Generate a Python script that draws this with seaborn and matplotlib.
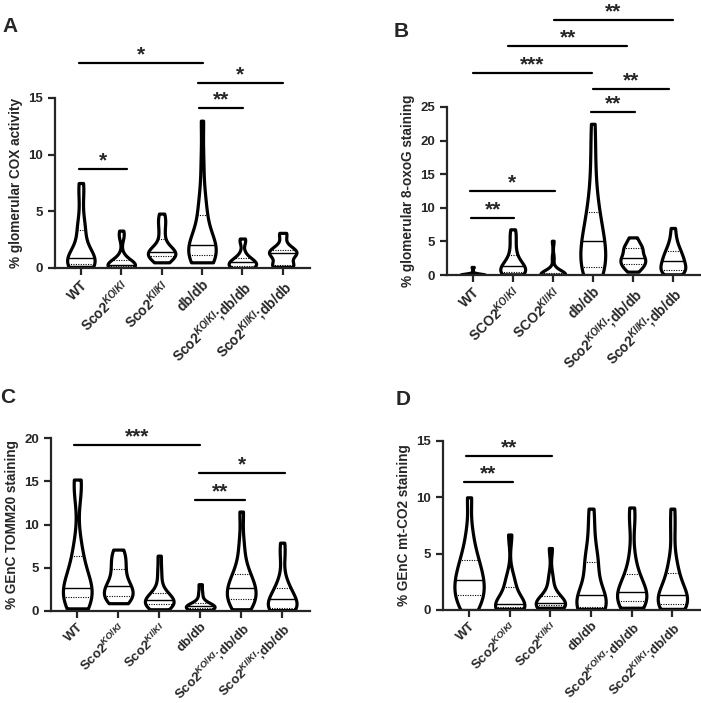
import numpy as np
import pandas as pd
import matplotlib
matplotlib.use("Agg")
import matplotlib.pyplot as plt
import seaborn as sns

sns.set_style("ticks")
plt.rcParams['font.family'] = ['Liberation Sans', 'DejaVu Sans']
plt.rcParams['font.weight'] = 'bold'
plt.rcParams['mathtext.fontset'] = 'custom'
plt.rcParams['mathtext.rm'] = 'Liberation Sans:bold'
plt.rcParams['mathtext.it'] = 'Liberation Sans:italic:bold'
plt.rcParams['mathtext.bf'] = 'Liberation Sans:bold'

# tick labels
labels_sco = ['WT', r'Sco2$^{KO/KI}$', r'Sco2$^{KI/KI}$', 'db/db',
              r'Sco2$^{KO/KI}$;db/db', r'Sco2$^{KI/KI}$;db/db']
labels_SCO = ['WT', r'SCO2$^{KO/KI}$', r'SCO2$^{KI/KI}$', 'db/db',
              r'Sco2$^{KO/KI}$;db/db', r'Sco2$^{KI/KI}$;db/db']

# A - % glomerular COX activity
a_wt = [0.1, 0.2, 0.25, 0.3, 0.3, 0.4, 0.5, 0.6, 0.7, 0.8, 1.0, 1.2, 1.5, 2.0, 3.3, 3.5, 3.8, 5.5, 7.0, 7.5]
a_ko = [0.0, 0.05, 0.1, 0.1, 0.15, 0.2, 0.2, 0.25, 0.3, 0.3, 0.35, 0.4, 0.5, 0.6, 0.8, 1.2, 2.6, 3.0, 3.3]
a_ki = [0.5, 0.8, 1.0, 1.1, 1.1, 1.2, 1.3, 1.4, 1.4, 1.5, 1.6, 1.8, 2.6, 3.2, 3.9, 4.3, 4.8]
a_db = [0.5, 0.7, 0.9, 1.0, 1.1, 1.2, 1.4, 1.6, 1.8, 2.0, 2.0, 2.2, 2.5, 3.0, 4.6, 4.8, 5.5, 7.0, 9.5, 13.0]
a_kodb = [0.0, 0.05, 0.1, 0.15, 0.2, 0.3, 0.4, 0.5, 0.6, 0.7, 0.8, 0.9, 1.4, 2.3, 2.6]
a_kidb = [0.1, 0.15, 0.2, 0.2, 0.25, 0.6, 1.1, 1.2, 1.3, 1.3, 1.4, 1.5, 1.6, 1.7, 2.1, 2.9, 3.1]

# B - % glomerular 8-oxoG staining
b_wt = [0, 0, 0, 0, 0, 0.02, 0.03, 0.05, 0.05, 0.1, 0.1, 0.2, 1.2]
b_ko = [0.1, 0.2, 0.3, 0.4, 0.4, 0.8, 1.1, 1.3, 1.5, 1.8, 2.5, 3.4, 4.6, 5.8, 6.8]
b_ki = [0, 0, 0, 0, 0, 0.02, 0.05, 0.05, 0.1, 0.1, 0.15, 0.2, 0.3, 0.5, 1.0, 2.6, 5.1]
b_db = [0.0, 0.5, 1.0, 1.1, 1.2, 2.5, 3.5, 4.5, 5.1, 5.5, 6.5, 8.0, 9.4, 11.0, 14.0, 18.0, 22.5]
b_kodb = [0.5, 1.0, 1.4, 1.6, 1.8, 2.2, 2.5, 2.6, 2.8, 3.5, 3.9, 4.0, 4.3, 5.0, 5.6]
b_kidb = [0.1, 0.3, 0.5, 0.7, 0.8, 1.2, 1.6, 2.0, 2.2, 2.5, 3.0, 3.4, 3.8, 4.5, 5.5, 7.0]

# C - % GEnC TOMM20 staining
c_wt = [0.3, 0.8, 1.2, 1.4, 1.5, 1.7, 2.0, 2.4, 2.6, 2.7, 3.0, 3.6, 4.5, 6.2, 6.5, 8.0, 14.0, 14.6, 15.2]
c_ko = [0.9, 1.2, 1.6, 1.7, 2.0, 2.5, 2.8, 3.0, 3.5, 4.5, 5.0, 5.8, 6.5, 7.1]
c_ki = [0.2, 0.4, 0.6, 0.7, 0.8, 1.0, 1.1, 1.2, 1.3, 1.5, 1.8, 2.0, 2.3, 3.5, 4.8, 6.4]
c_db = [0.1, 0.2, 0.3, 0.3, 0.4, 0.5, 0.5, 0.6, 0.7, 0.8, 0.9, 1.5, 2.2, 3.1]
c_kodb = [0.2, 0.6, 1.0, 1.2, 1.5, 2.0, 2.4, 2.6, 3.0, 3.5, 4.0, 4.5, 6.0, 8.0, 11.5]
c_kidb = [0.1, 0.2, 0.25, 0.3, 0.3, 0.6, 1.0, 1.4, 1.6, 2.0, 2.5, 2.8, 4.0, 6.3, 7.9]

# D - % GEnC mt-CO2 staining
d_wt = [0.0, 0.5, 1.0, 1.2, 1.4, 2.0, 2.5, 2.7, 3.0, 3.5, 4.2, 4.6, 5.5, 7.0, 10.0]
d_ko = [0.1, 0.15, 0.2, 0.25, 0.3, 0.4, 0.5, 0.6, 0.8, 2.0, 2.3, 3.0, 6.7]
d_ki = [0.2, 0.3, 0.4, 0.4, 0.5, 0.5, 0.6, 0.7, 0.8, 1.2, 2.0, 3.0, 5.5]
d_db = [0.1, 0.1, 0.15, 0.2, 0.5, 1.0, 1.2, 1.5, 2.5, 4.0, 4.3, 5.0, 7.0, 9.0]
d_kodb = [0.2, 0.4, 0.6, 0.7, 0.9, 1.2, 1.5, 1.6, 1.8, 2.2, 2.9, 3.5, 5.0, 7.8, 9.1]
d_kidb = [0.1, 0.3, 0.5, 0.5, 0.6, 0.9, 1.2, 1.3, 1.5, 2.0, 3.0, 3.5, 4.5, 7.0, 9.0]

# significance bars: (from, to, height, stars)
sig_a = [(-0.05, 3.03, 18.1, '*'), (2.9, 5.0, 16.3, '*'), (2.93, 4.02, 14.1, '**'), (-0.05, 1.15, 8.7, '*')]
sig_b = [(2.03, 5.0, 38.0, '**'), (0.89, 3.86, 34.1, '**'), (0.0, 2.97, 30.1, '***'),
         (3.0, 4.9, 27.7, '**'), (2.96, 4.05, 24.2, '**'), (-0.07, 2.05, 12.45, '*'), (-0.04, 1.04, 8.45, '**')]
sig_c = [(-0.07, 3.0, 19.2, '***'), (2.96, 5.06, 15.9, '*'), (2.88, 4.1, 12.8, '**')]
sig_d = [(-0.07, 2.03, 13.7, '**'), (-0.13, 1.07, 11.4, '**')]


def panel(ax, groups, labels, ymax, ystep, ylabel, sig, width, xsize):
    df = pd.DataFrame({'g': [lab for lab, vals in zip(labels, groups) for v in vals],
                       'v': [v for vals in groups for v in vals]})
    sns.violinplot(data=df, x='g', y='v', order=labels, ax=ax, color='white',
                   linecolor='black', linewidth=2.3, cut=0, inner='quart',
                   inner_kws=dict(color='black', linewidth=0.8),
                   density_norm='width', width=width, bw_adjust=0.8)
    for i, ln in enumerate(ax.lines):
        if i % 3 == 1:
            ln.set_linestyle('-')
            ln.set_linewidth(1.0)
        else:
            ln.set_linestyle((0, (1, 1.2)))
    ax.set_xlim(-0.64, 5.68)
    ax.set_ylim(0, ymax)
    ax.set_yticks(np.arange(0, ymax + 0.1, ystep))
    ax.set_xlabel('')
    ax.set_ylabel(ylabel, fontsize=9.8, fontweight='bold', labelpad=4)
    sns.despine(ax=ax)
    for s in ['left', 'bottom']:
        ax.spines[s].set_linewidth(1.6)
    ax.tick_params(width=1.6, length=5, labelsize=9.5)
    ax.tick_params(axis='x', labelsize=xsize, pad=2)
    plt.setp(ax.get_xticklabels(), rotation=45, ha='right', rotation_mode='anchor')
    plt.setp(ax.get_yticklabels(), fontweight='bold')
    for x0, x1, y, st in sig:
        ax.plot([x0, x1], [y, y], color='black', lw=1.6, clip_on=False)
        ax.annotate(st, xy=((x0 + x1) / 2, y), xytext=(0, -1), textcoords='offset points',
                    ha='center', va='bottom', fontsize=15, fontweight='bold',
                    annotation_clip=False)


fig = plt.figure(figsize=(7.01, 7.03), dpi=100)
ax_a = fig.add_axes([0.0785, 0.6188, 0.364, 0.2418])
ax_b = fig.add_axes([0.6377, 0.6088, 0.361, 0.239])
ax_c = fig.add_axes([0.0728, 0.1309, 0.3695, 0.246])
ax_d = fig.add_axes([0.632, 0.1323, 0.3666, 0.2404])

panel(ax_a, [a_wt, a_ko, a_ki, a_db, a_kodb, a_kidb], labels_sco, 15, 5,
      '% glomerular COX activity', sig_a, 0.68, 10)
panel(ax_b, [b_wt, b_ko, b_ki, b_db, b_kodb, b_kidb], labels_SCO, 25, 5,
      '% glomerular 8-oxoG staining', sig_b, 0.62, 10)
panel(ax_c, [c_wt, c_ko, c_ki, c_db, c_kodb, c_kidb], labels_sco, 20, 5,
      '% GEnC TOMM20 staining', sig_c, 0.7, 9.5)
panel(ax_d, [d_wt, d_ko, d_ki, d_db, d_kodb, d_kidb], labels_sco, 15, 5,
      '% GEnC mt-CO2 staining', sig_d, 0.72, 9.5)

for x, y, t in [(0.003, 0.9545, 'A'), (0.561, 0.947, 'B'), (0.0, 0.4267, 'C'), (0.565, 0.4239, 'D')]:
    fig.text(x, y, t, fontsize=15, fontweight='bold', va='baseline')

fig.savefig('out.png', dpi=100)
